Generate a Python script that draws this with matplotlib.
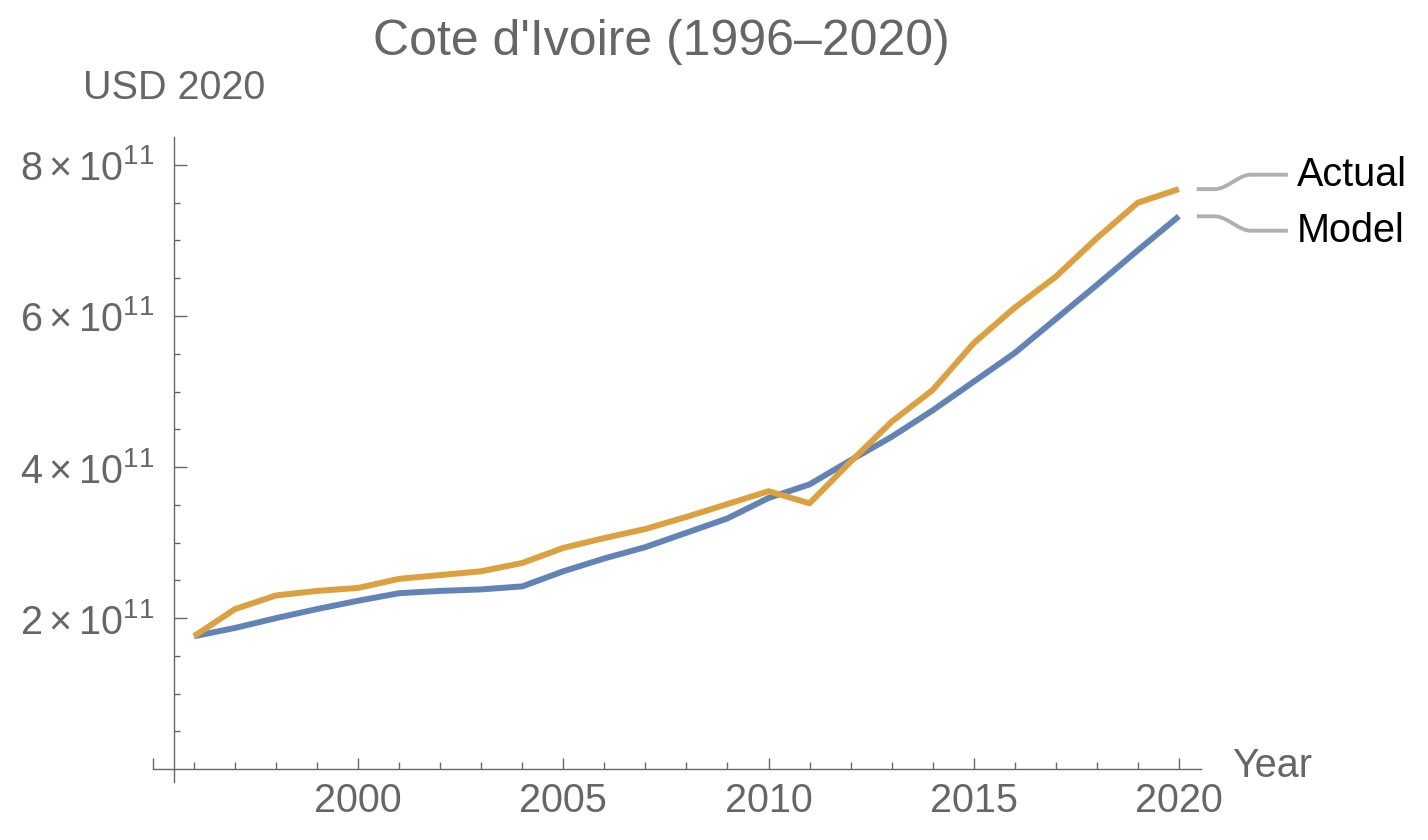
import numpy as np
import matplotlib
matplotlib.use("Agg")
import matplotlib.pyplot as plt
from matplotlib.ticker import FixedLocator, FuncFormatter

# data (USD 2020, units of 1e11)
years = list(range(1996, 2021))
actual = [1.76, 2.12, 2.30, 2.36, 2.40, 2.52, 2.57, 2.62, 2.73, 2.93,
          3.06, 3.18, 3.34, 3.51, 3.68, 3.52, 4.07, 4.60, 5.02, 5.64,
          6.11, 6.52, 7.03, 7.50, 7.68]
model = [1.76, 1.87, 2.00, 2.12, 2.23, 2.33, 2.36, 2.38, 2.42, 2.62,
         2.79, 2.94, 3.13, 3.32, 3.59, 3.77, 4.09, 4.40, 4.75, 5.13,
         5.51, 5.96, 6.41, 6.87, 7.32]
series_names = ["Actual", "Model"]
title = "Cote d'Ivoire (1996\u20132020)"
x_major = [1995, 2000, 2005, 2010, 2015, 2020]
y_major = [2e11, 4e11, 6e11, 8e11]

gray = "#666666"
c_actual = "#DDA03E"
c_model = "#6283B6"

plt.rcParams["font.family"] = ["Liberation Sans", "DejaVu Sans"]
plt.rcParams["mathtext.fontset"] = "custom"
plt.rcParams["mathtext.rm"] = "Liberation Sans"
plt.rcParams["mathtext.it"] = "Liberation Sans:italic"
plt.rcParams["mathtext.default"] = "regular"

W, H = 1428, 840
fig = plt.figure(figsize=(W / 100, H / 100), dpi=100)
# axes box in pixels: left 153, right 1201, top 137, bottom 782
ax = fig.add_axes([153 / W, 1 - 782 / H, (1201 - 153) / W, (782 - 137) / H])

yrs = np.array(years)
act = np.array(actual) * 1e11
mod = np.array(model) * 1e11

ax.plot(yrs, mod, color=c_model, lw=4.3, solid_capstyle="butt", zorder=3)
ax.plot(yrs, act, color=c_actual, lw=4.3, solid_capstyle="butt", zorder=4)

ax.set_xlim(1995.0, 2020.54)
ax.set_ylim(-0.17e11, 8.37e11)

for s in ["top", "right"]:
    ax.spines[s].set_visible(False)
ax.spines["left"].set_position(("data", 1995.51))
ax.spines["bottom"].set_position(("data", 0))
for s in ["left", "bottom"]:
    ax.spines[s].set_color(gray)
    ax.spines[s].set_linewidth(1.0)

ax.xaxis.set_major_locator(FixedLocator(x_major))
ax.xaxis.set_minor_locator(FixedLocator([y for y in range(1995, 2021) if y % 5]))
ax.set_xticklabels(["" if v == 1995 else str(v) for v in x_major])

ax.yaxis.set_major_locator(FixedLocator(y_major))
ax.yaxis.set_minor_locator(FixedLocator([k * 0.5e11 for k in range(1, 17) if k % 4]))
ax.yaxis.set_major_formatter(FuncFormatter(
    lambda v, p: r"$%d\times10^{11}$" % round(v / 1e11)))

ax.tick_params(axis="both", which="both", direction="in", color=gray,
               labelcolor=gray, labelsize=28.5, width=1.0)
ax.tick_params(axis="x", which="major", length=8, pad=9)
ax.tick_params(axis="x", which="minor", length=5)
ax.tick_params(axis="y", which="major", length=9, pad=14)
ax.tick_params(axis="y", which="minor", length=4.5)

fig.text(661 / W, 1 - 42 / H, title, ha="center", va="center",
         fontsize=36, color=gray)
fig.text(83 / W, 1 - 88 / H, "USD 2020", ha="left", va="center",
         fontsize=28.5, color=gray)
fig.text(1232 / W, 1 - 766 / H, "Year", ha="left", va="center",
         fontsize=28.5, color=gray)

# callout labels with S-shaped gray connectors (display pixel coords)
fig.canvas.draw()
ends = [ax.transData.transform((yrs[-1], act[-1])),
        ax.transData.transform((yrs[-1], mod[-1]))]
mid = (ends[0][1] + ends[1][1]) / 2
targets = [mid + 28, mid - 28]
for name, (ex, ey), ty in zip(series_names, ends, targets):
    x0 = ex + 18
    xs = [x0, x0 + 18]
    ys = [ey, ey]
    t = np.linspace(0, 1, 30)
    xs += list(x0 + 18 + 36 * t)
    ys += list(ey + (ty - ey) * (3 * t ** 2 - 2 * t ** 3))
    xs += [x0 + 91]
    ys += [ty]
    fig.add_artist(plt.Line2D(xs, ys, transform=None, color="#b0b0b0",
                              lw=2.8, solid_capstyle="butt"))
    px, py = fig.transFigure.inverted().transform((x0 + 100, ty))
    fig.text(px, py, name, ha="left", va="center", fontsize=28.5, color="black")

fig.savefig("out.png", dpi=100)
